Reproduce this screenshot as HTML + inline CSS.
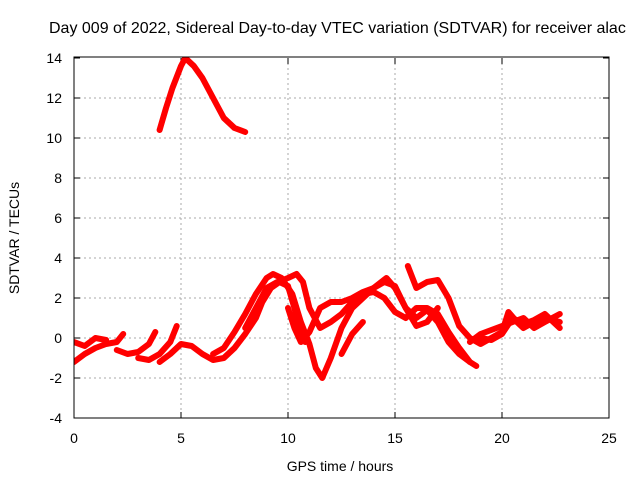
<!DOCTYPE html>
<html><head><meta charset="utf-8"><style>
body{margin:0;background:#fff;overflow:hidden}
svg{font-family:"Liberation Sans",sans-serif;font-size:14px}
</style></head><body>
<svg width="640" height="480" xmlns="http://www.w3.org/2000/svg">
<g id="grid"></g>
<g id="axes"></g>
<g id="series" clip-path="url(#cp)"></g>
<defs><clipPath id="cp"><rect x="74" y="57" width="536" height="362"/></clipPath></defs>
<rect x="74" y="57" width="535" height="361" fill="none" stroke="#000"/>
<text x="49" y="33" style="font-size:16px">Day 009 of 2022, Sidereal Day-to-day VTEC variation (SDTVAR) for receiver alac</text>
<text x="340" y="471" text-anchor="middle">GPS time / hours</text>
<text transform="translate(19,238) rotate(-90)" text-anchor="middle">SDTVAR / TECUs</text>
</svg>
<script>
const xTicks=[0,5,10,15,20,25];
const yTicks=[-4,-2,0,2,4,6,8,10,12,14];
const tracks=[
[[4.0,10.4],[4.3,11.5],[4.6,12.5],[5.0,13.6],[5.2,14.0],[5.6,13.6],[6.0,13.0],[6.5,12.0],[7.0,11.0],[7.5,10.5],[8.0,10.3]],
[[0,-1.2],[0.5,-0.8],[1,-0.5],[1.5,-0.3],[2.0,-0.2],[2.3,0.2]],
[[0,-0.2],[0.5,-0.4],[1,0.0],[1.5,-0.1]],
[[2,-0.6],[2.5,-0.8],[3,-0.7],[3.5,-0.3],[3.8,0.3]],
[[3,-1.0],[3.5,-1.1],[4,-0.8],[4.5,-0.2],[4.8,0.6]],
[[4,-1.2],[4.5,-0.8],[5,-0.3],[5.5,-0.4],[6,-0.8],[6.5,-1.1],[7,-1.0],[7.5,-0.5],[8,0.2],[8.5,1.0],[8.8,1.8],[9.2,2.5],[9.6,2.8],[10,2.6],[10.3,1.5],[10.5,0.5],[10.8,-0.2]],
[[6.5,-0.8],[7,-0.5],[7.5,0.3],[8,1.2],[8.5,2.2],[9,3.0],[9.3,3.2],[9.7,3.0],[10.2,2.2],[10.6,0.8],[11,-0.3],[11.3,-1.5],[11.6,-2.0],[12,-1.0],[12.5,0.5],[13,1.5],[13.5,2.0],[14,2.5],[14.5,2.8],[15,2.6],[15.5,1.5],[16,0.6],[16.5,0.8],[17,1.5]],
[[8,0.5],[8.5,1.5],[9,2.5],[9.5,2.8],[10,3.0],[10.4,3.2],[10.7,2.8],[11,1.5],[11.5,0.5],[12,0.8],[12.5,1.2],[13,1.8],[13.5,2.2],[14,2.3],[14.5,2.0],[15,1.3],[15.5,1.0],[16,1.5],[16.5,1.5],[17,1.2],[17.5,0.3],[18,-0.5],[18.5,-1.2],[18.8,-1.4]],
[[10,1.5],[10.3,0.5],[10.6,-0.2],[11,0.3],[11.5,1.5],[12,1.8],[12.5,1.8],[13,2.0],[13.5,2.3],[14,2.5],[14.6,3.0],[15,2.5],[15.5,1.5],[16,1.0],[16.5,1.4],[17,0.8],[17.5,-0.2],[18,-0.8],[18.5,-1.2]],
[[12.5,-0.8],[13,0.2],[13.5,0.8]],
[[15.6,3.6],[16,2.5],[16.5,2.8],[17,2.9],[17.5,2.0],[18,0.6],[18.5,0],[19,-0.3],[19.5,0.0],[20,0.3],[20.3,1.3],[20.7,0.8],[21,0.5],[21.5,0.8],[22,1.0],[22.7,0.8]],
[[18.5,-0.2],[19,0.2],[19.5,0.4],[20,0.6],[20.5,0.8],[21,1.0],[21.5,0.5],[22,0.8],[22.7,1.2]],
[[19,0.0],[19.5,-0.1],[20,0.2],[20.5,1.0],[21,0.7],[21.5,0.9],[22,1.2],[22.7,0.5]]
];
const NS="http://www.w3.org/2000/svg";
const X0=74,X1=609,Y0=418,Y1=58;
const xs=v=>X0+(v-0)/(25-0)*(X1-X0);
const ys=v=>Y0-(v+4)/(18)*(Y0-Y1);
function mk(t,a,p){const e=document.createElementNS(NS,t);for(const k in a)e.setAttribute(k,a[k]);p.appendChild(e);return e;}
const grid=document.getElementById('grid'),axes=document.getElementById('axes'),ser=document.getElementById('series');
xTicks.forEach(t=>{
 const x=xs(t);
 if(t>0&&t<25){const l=mk('line',{x1:x,x2:x,y1:Y1,y2:Y0,stroke:'#aaa','stroke-dasharray':'2,3'},grid);
 
 }
 mk('line',{x1:x,x2:x,y1:Y0,y2:Y0-6,stroke:'#000'},axes);
 mk('line',{x1:x,x2:x,y1:Y1,y2:Y1+6,stroke:'#000'},axes);
 const tx=mk('text',{x:x,y:443,'text-anchor':'middle'},axes);tx.textContent=t;
 
 
});
yTicks.forEach(t=>{
 const y=ys(t);
 if(t>-4&&t<14){const l=mk('line',{x1:X0,x2:X1,y1:y,y2:y,stroke:'#aaa','stroke-dasharray':'2,3'},grid);
 
 }
 mk('line',{x1:X0,x2:X0+6,y1:y,y2:y,stroke:'#000'},axes);
 mk('line',{x1:X1,x2:X1-6,y1:y,y2:y,stroke:'#000'},axes);
 const tx=mk('text',{x:62,y:y+5,'text-anchor':'end'},axes);tx.textContent=t;
 
 
});
tracks.forEach(tr=>{
 const p=mk('polyline',{points:tr.map(d=>xs(d[0])+','+ys(d[1])).join(' '),fill:'none',stroke:'#f00','stroke-width':6,'stroke-linejoin':'round','stroke-linecap':'round'},ser);
 
 
});
</script>
</body></html>
